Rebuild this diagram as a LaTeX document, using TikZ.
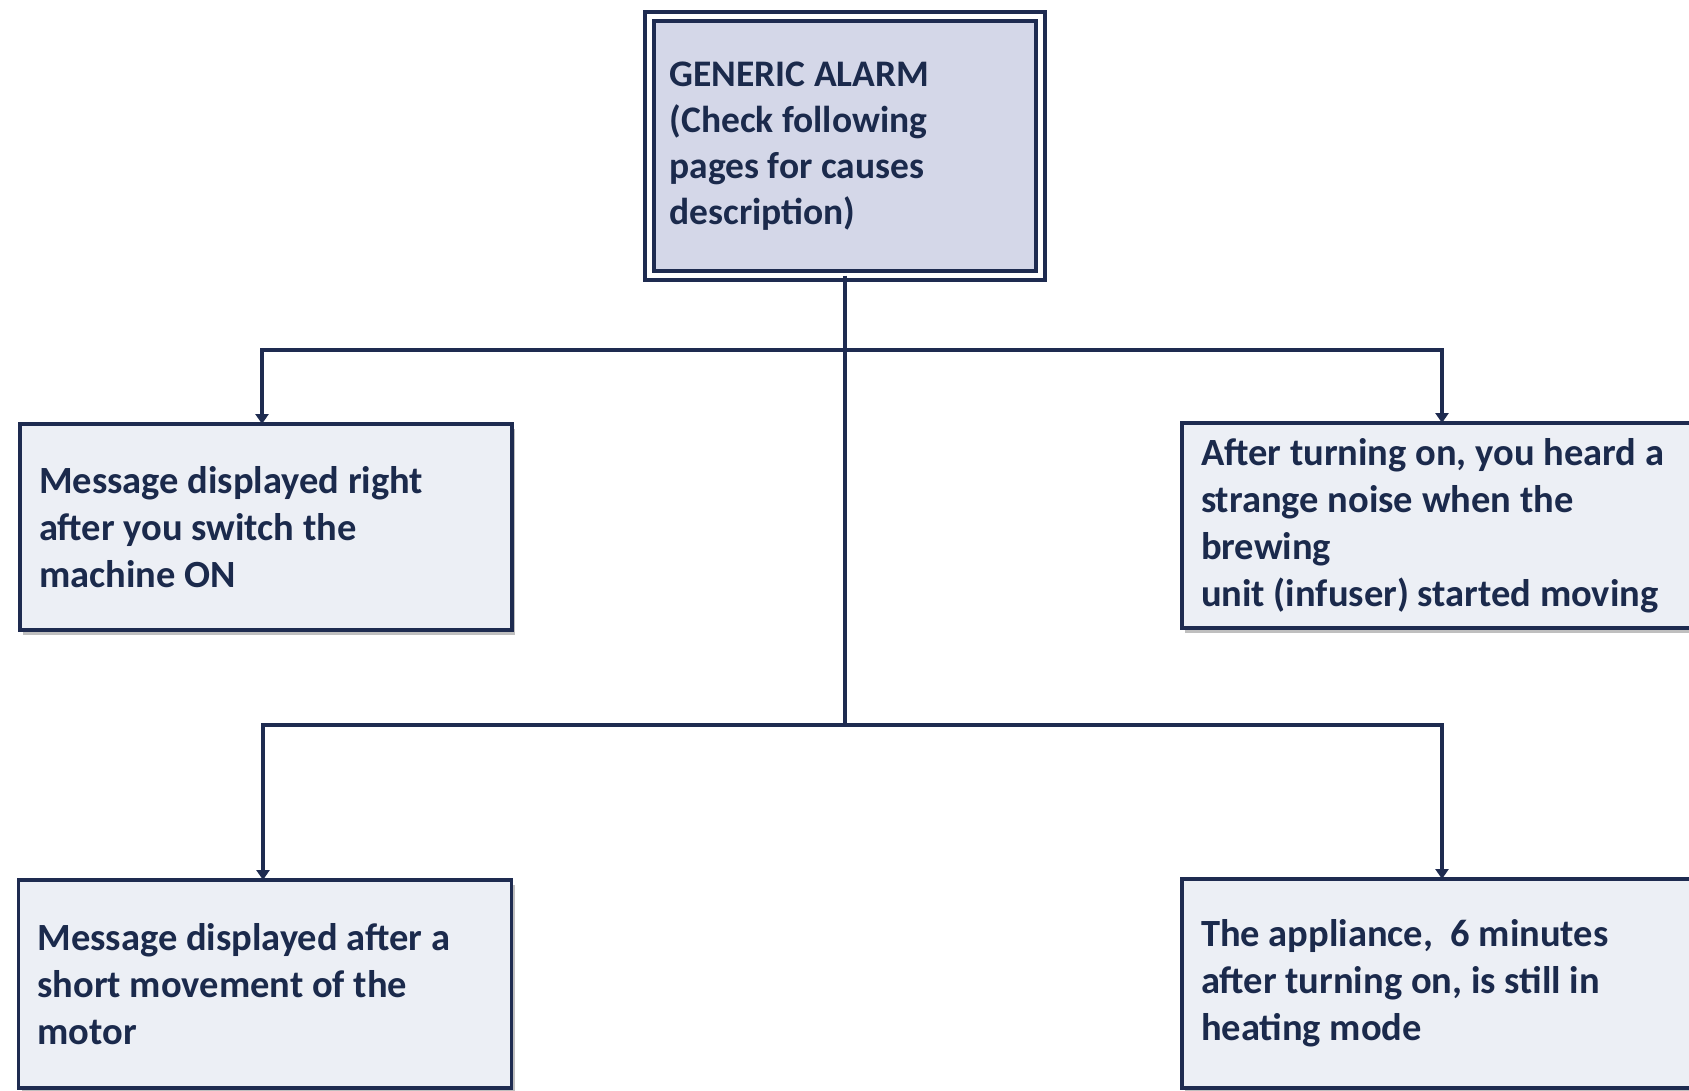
\documentclass[tikz,border=0pt]{standalone}
\usepackage{fontspec}
\setmainfont{Carlito}
\usetikzlibrary{arrows.meta,shadows}
\definecolor{navy}{HTML}{1E2B50}
\definecolor{txt}{HTML}{1B2A4C}
\definecolor{topfill}{HTML}{D4D7E8}
\definecolor{boxfill}{HTML}{ECEFF5}
\newcommand\fixsp{\spaceskip=0pt\xspaceskip=0pt\relax}
\tikzset{
  box/.style={draw=navy, line width=3.5pt, fill=boxfill, rectangle, anchor=north west,
    inner xsep=19pt, inner ysep=0pt, outer sep=0pt, align=left, text=txt,
    font=\fontsize{38.5}{47}\selectfont\bfseries,
    drop shadow={shadow xshift=3pt, shadow yshift=-5pt, fill=black!50, opacity=0.5}},
  topbox/.style={draw=navy, line width=4.5pt, double=white, double distance=4.5pt, fill=topfill,
    rectangle, anchor=north west, inner xsep=20pt, inner ysep=0pt, outer sep=0pt, align=left, text=txt,
    font=\fontsize{37.5}{46}\selectfont\bfseries,
    drop shadow={shadow xshift=3pt, shadow yshift=-5pt, fill=black!50, opacity=0.5}},
  conn/.style={draw=navy, line width=3.2pt},
  arr/.style={conn, -{Triangle[width=13pt,length=10pt]}}
}
\begin{document}
\begin{tikzpicture}[x=1pt,y=-1pt]
\clip (0,0) rectangle (1689,1090);
\fill[white] (0,0) rectangle (1689,1090);
\node[topbox, text width=351pt, minimum height=259pt] (top) at (649.5,16.5)
  {\fixsp GENERIC ALARM\\(Check following\\pages for causes\\description)};
\node[box, text width=454pt, minimum height=206pt] (lt) at (20,424)
  {\fixsp Message displayed right\\after you switch the\\machine ON};
\node[box, text width=482pt, minimum height=205pt] (rt) at (1182,423)
  {\fixsp After turning on, you heard a\\strange noise when the\\brewing\\unit (infuser) started moving};
\node[box, text width=455pt, minimum height=208pt] (lb) at (18.5,880)
  {\fixsp Message displayed after a\\short movement of the\\motor};
\node[box, text width=482pt, minimum height=209pt] (rb) at (1182,879)
  {\fixsp The appliance,~ 6 minutes\\after turning on, is still in\\heating mode};
\coordinate (j1) at (top.south |- 0,350);
\coordinate (j2) at (top.south |- 0,725);
\draw[conn] (top.south) -- (j2);
\draw[arr] (j1) -| ([xshift=-4pt]lt.north);
\draw[arr] (j1) -| (rt.north);
\draw[arr] (j2) -| ([xshift=-2pt]lb.north);
\draw[arr] (j2) -| (rb.north);
\end{tikzpicture}
\end{document}
